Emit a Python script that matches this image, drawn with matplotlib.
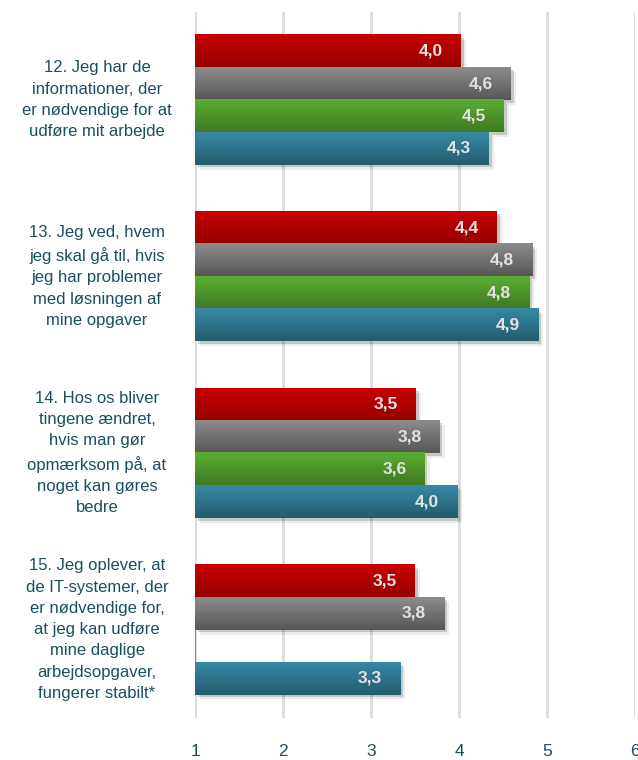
import numpy as np
import matplotlib
matplotlib.use("Agg")
import matplotlib.pyplot as plt
import matplotlib.patheffects as pe
from matplotlib.colors import LinearSegmentedColormap
from matplotlib.transforms import blended_transform_factory

plt.rcParams['font.family'] = ['Liberation Sans', 'DejaVu Sans']

questions = [
    "12. Jeg har de\ninformationer, der\ner nødvendige for at\nudføre mit arbejde",
    "13. Jeg ved, hvem\njeg skal gå til, hvis\njeg har problemer\nmed løsningen af\nmine opgaver",
    "14. Hos os bliver\ntingene ændret,\nhvis man gør\nopmærksom på, at\nnoget kan gøres\nbedre",
    "15. Jeg oplever, at\nde IT-systemer, der\ner nødvendige for,\nat jeg kan udføre\nmine daglige\narbejdsopgaver,\nfungerer stabilt*",
]
# one list per series (top to bottom inside each group)
red_vals = [4.02, 4.43, 3.51, 3.50]
gray_vals = [4.59, 4.83, 3.78, 3.83]
green_vals = [4.51, 4.80, 3.61, 1.0]   # last one is empty
blue_vals = [4.34, 4.90, 3.98, 3.33]
xticks = [1, 2, 3, 4, 5, 6]

series = [red_vals, gray_vals, green_vals, blue_vals]
grads = [("#c80000", "#960000"),
         ("#8c8c8c", "#575757"),
         ("#5cae32", "#3e7a20"),
         ("#3689a5", "#235c6c")]
text_col = "#1b4f5f"

fig = plt.figure(figsize=(6.38, 7.6), dpi=100)
ax = fig.add_axes([195 / 638, 42 / 760, 440 / 638, 706.5 / 760])

h = 0.1836
offsets = [-1.5 * h, -0.5 * h, 0.5 * h, 1.5 * h]
ypos = np.arange(len(questions))

for vals, off, (c_top, c_bot) in zip(series, offsets, grads):
    cmap = LinearSegmentedColormap.from_list("g", [c_top, c_bot])
    grad = np.linspace(0, 1, 64).reshape(-1, 1)
    for y, v in zip(ypos, vals):
        yc = y + off
        if v <= 1.0:
            ax.barh(yc, 0.006, left=1, height=h, color=c_top, zorder=3)
            continue
        ax.barh(yc, v - 1, left=1, height=h, color=c_bot, zorder=3,
                path_effects=[pe.SimplePatchShadow(offset=(2, -2), alpha=0.18),
                              pe.SimplePatchShadow(offset=(3.5, -3.5), alpha=0.08),
                              pe.Normal()])
        ax.imshow(grad, cmap=cmap, aspect='auto', origin='upper', zorder=4,
                  extent=(1, v, yc + h / 2, yc - h / 2), interpolation='bilinear')
        ax.annotate(f"{v:.1f}".replace(".", ","), xy=(v, yc), xytext=(-13, 0),
                    textcoords='offset points', ha='right', va='center',
                    color="#e2e2e2", fontsize=12.5, fontweight='bold', zorder=5)

ax.set_xlim(1, 6)
ax.set_ylim(len(questions) - 0.5, -0.5)
ax.set_xticks(xticks)
ax.set_xticklabels([str(t) for t in xticks], color=text_col, fontsize=12.5)
ax.tick_params(axis='x', length=0, pad=19)
ax.set_yticks([])
ax.grid(axis='x', color="#dcdcdc", linewidth=2, zorder=0)
ax.set_axisbelow(True)
for s in ax.spines.values():
    s.set_visible(False)

tr = blended_transform_factory(ax.transAxes, ax.transData)
for y, q in zip(ypos, questions):
    ax.text(-98 / 440, y, q, transform=tr, ha='center', va='center',
            multialignment='center', color=text_col, fontsize=12,
            linespacing=1.52, clip_on=False)

fig.savefig("out.png", dpi=100)
